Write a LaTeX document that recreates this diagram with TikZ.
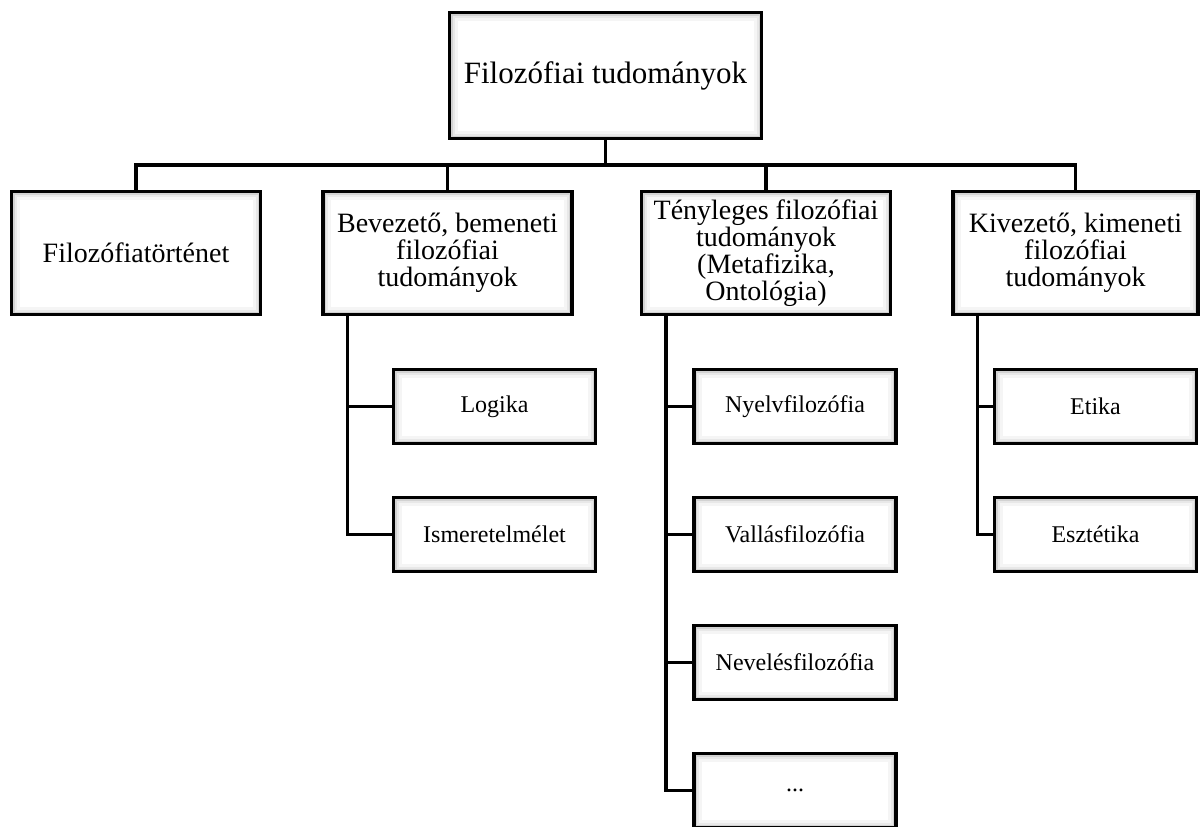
\documentclass[tikz,border=0pt]{standalone}
\usepackage{fontspec}
\setmainfont{Liberation Serif}
\begin{document}
\begin{tikzpicture}[x=1pt,y=-1pt,
  box/.style={draw=black, line width=3.5pt, fill=white, inner sep=0pt, align=center,
    path picture={
      \draw[gray!8, line width=16pt] (path picture bounding box.north west) rectangle (path picture bounding box.south east);
      \draw[gray!18, line width=10pt] (path picture bounding box.north west) rectangle (path picture bounding box.south east);
      \draw[gray!35, line width=6pt] (path picture bounding box.north west) rectangle (path picture bounding box.south east);
    }},
  topbox/.style={box, minimum width=312pt, minimum height=126pt, font=\fontsize{31}{36}\selectfont},
  midbox/.style={box, minimum width=249pt, minimum height=123pt, font=\fontsize{28}{27}\selectfont},
  leafbox/.style={box, minimum width=202pt, minimum height=74pt, font=\fontsize{24}{28}\selectfont},
  tree/.style={line width=3.5pt, draw=black, line join=miter},
  twig/.style={line width=3pt, draw=black}
]
\useasboundingbox (0,0) rectangle (1200,827);

\node[topbox] (top) at (605.5,75.5) {Filozófiai tudományok};

\node[midbox] (b1) at (136,253) {Filozófiatörténet};
\node[midbox] (b2) at (447.5,253) {Bevezető, bemeneti\\filozófiai\\tudományok};
\node[midbox] (b3) at (766,253) {Tényleges filozófiai\\tudományok\\(Metafizika,\\Ontológia)};
\node[midbox, minimum width=245pt] (b4) at (1075.5,253) {Kivezető, kimeneti\\filozófiai\\tudományok};

\node[leafbox] (c21) at (494.5,406.5) {Logika};
\node[leafbox] (c22) at (494.5,534.5) {Ismeretelmélet};

\node[leafbox] (c31) at (795,406.5) {Nyelvfilozófia};
\node[leafbox] (c32) at (795,534.5) {Vallásfilozófia};
\node[leafbox] (c33) at (795,662.5) {Nevelésfilozófia};
\node[leafbox] (c34) at (795,790.5) {...};

\node[leafbox] (c41) at (1095.5,406.5) {Etika};
\node[leafbox] (c42) at (1095.5,534.5) {Esztétika};

% bus
\coordinate (bus) at (0,165);
\draw[tree] (top.south) -- (top.south |- bus);
\draw[tree] (b1.north) -- (b1.north |- bus) -- (b4.north |- bus) -- (b4.north);
\draw[tree] (b2.north) -- (b2.north |- bus);
\draw[tree] (b3.north) -- (b3.north |- bus);

% child stems
\coordinate (s2) at ([xshift=26pt]b2.south west);
\coordinate (s3) at ([xshift=26pt]b3.south west);
\coordinate (s4) at ([xshift=26pt]b4.south west);

\draw[tree] (s2) |- (c22.west);
\draw[twig] (c21.west) -- (c21.west -| s2);

\draw[tree] (s3) |- (c34.west);
\draw[twig] (c31.west) -- (c31.west -| s3);
\draw[twig] (c32.west) -- (c32.west -| s3);
\draw[twig] (c33.west) -- (c33.west -| s3);

\draw[tree] (s4) |- (c42.west);
\draw[twig] (c41.west) -- (c41.west -| s4);
\end{tikzpicture}
\end{document}
